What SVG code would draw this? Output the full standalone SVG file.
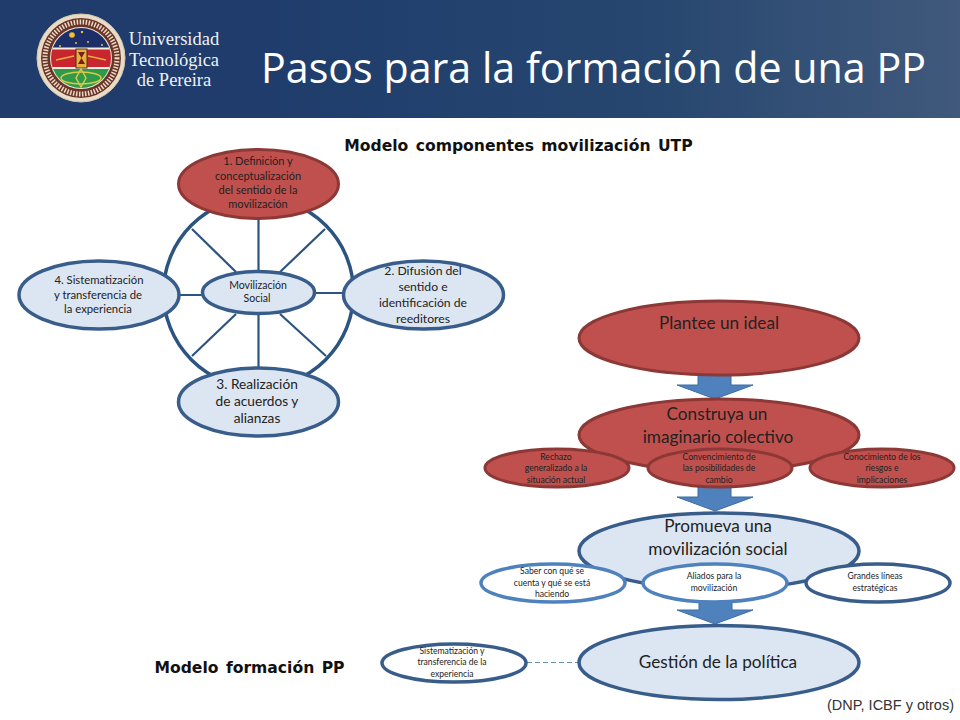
<svg xmlns="http://www.w3.org/2000/svg" width="960" height="720" viewBox="0 0 960 720">
<defs>
<linearGradient id="hdr" x1="0" y1="0" x2="1" y2="0"><stop offset="0" stop-color="#1f3c6c"/><stop offset="0.55" stop-color="#26466f"/><stop offset="1" stop-color="#40597c"/></linearGradient>
<clipPath id="skyClip"><circle cx="80" cy="58" r="30"/></clipPath>
</defs>
<style>
text{font-family:Lato,"Open Sans","Liberation Sans",sans-serif;text-anchor:middle;fill:#222}
.red{fill:#c0504d;stroke:#8c3836;stroke-width:3}
.blue{fill:#dce6f2;stroke:#385d8a;stroke-width:3.5}
.white{fill:#fff;stroke:#385d8a;stroke-width:3.5}
.whitel{fill:#fff;stroke:#4f81bd;stroke-width:3.5}
.spoke{stroke:#2c5480;stroke-width:2.2;fill:none}
.arrow{fill:#4f81bd;stroke:#3a6ca5;stroke-width:1}
.s7{font-size:8.6px}.s16{font-size:17.2px}.h{font-size:15.6px;font-weight:700;fill:#111;word-spacing:2px;font-family:"DejaVu Sans","Open Sans",sans-serif;}
</style>
<g id="header">
<rect x="0" y="0" width="960" height="118" fill="#1f3c6c"/>
<rect x="245" y="0" width="715" height="118" fill="url(#hdr)"/>
<text x="593.500" y="83" style="font-size:41.200px;fill:#fff;font-family:'Open Sans',Lato,sans-serif">Pasos para la formación de una PP</text>
</g>
<g id="logo">
<circle cx="81" cy="58" r="44" fill="#e9dcc6" stroke="#d8c8ae" stroke-width="1"/>
<circle cx="81" cy="58" r="40" fill="#6b3428"/>
<circle cx="81" cy="58" r="36" fill="none" stroke="#e9dcc6" stroke-width="5" stroke-dasharray="1.5 1.5"/>
<circle cx="81" cy="58" r="31" fill="#efe7d4"/>
<g clip-path="url(#skyClip)" transform="translate(1 0)">
<rect x="50" y="28" width="60" height="21" fill="#1d2f68"/>
<rect x="50" y="49" width="60" height="19" fill="#c8252f"/>
<rect x="50" y="68" width="60" height="22" fill="#2e9a4a"/>
<rect x="50" y="47.500" width="60" height="2" fill="#f4eede"/>
<rect x="50" y="67" width="60" height="2" fill="#f4eede"/>
</g>
<circle cx="72" cy="35" r="2.800" fill="#f2c02e"/>
<circle cx="82" cy="32" r="1.200" fill="#f2c02e"/><circle cx="60" cy="46" r="1" fill="#f2c02e"/><circle cx="76" cy="43" r="1" fill="#f2c02e"/><circle cx="88" cy="42" r="1" fill="#f2c02e"/><circle cx="102" cy="45" r="1" fill="#f2c02e"/>
<rect x="76" y="49" width="11" height="19" fill="#e5b13a" stroke="#5a2a20" stroke-width="1"/>
<path d="M78 52h7l-3.500 6 3.500 6h-7l3.500-6z" fill="#7a1d1d"/>
<path d="M56 60l18-4M106 60l-18-4" stroke="#e5b13a" stroke-width="1.500" fill="none"/>
<ellipse cx="81" cy="78" rx="20" ry="6" fill="none" stroke="#d8c94a" stroke-width="1.500"/>
<path d="M81 69l5 9-5 9-5-9z" fill="none" stroke="#d8c94a" stroke-width="1.500"/>
<text x="174" y="45" style="font-size:18.500px;fill:#eef1f5;font-family:'Liberation Serif',serif">Universidad</text>
<text x="174" y="66" style="font-size:18.500px;fill:#eef1f5;font-family:'Liberation Serif',serif">Tecnológica</text>
<text x="174" y="86" style="font-size:18.500px;fill:#eef1f5;font-family:'Liberation Serif',serif">de Pereira</text>
</g>
<text x="518.500" y="151" class="h">Modelo componentes movilización UTP</text>
<text x="249.500" y="673" class="h">Modelo formación PP</text>
<text x="890.500" y="710" style="font-size:14.500px;font-family:'Liberation Sans',sans-serif;fill:#333">(DNP, ICBF y otros)</text>
<g id="connectors">
<circle cx="258.500" cy="292.500" r="95" fill="none" stroke="#2c5480" stroke-width="3.500"/>
<path class="spoke" d="M258.500 219V272M258.500 313V368M179 295H202M315 293H343M192 229L236 272M325 229L280 272M192 356L236 314M326 356L280 314"/>
<path d="M527 662.500H578" stroke="#6f8fae" stroke-width="1" stroke-dasharray="5 3" fill="none"/>
<path class="arrow" d="M698 375H731V385H753L715 399L677 385H698Z"/>
<path class="arrow" d="M698 487H731V497H753L715 511L677 497H698Z"/>
<path class="arrow" d="M699 598H732V610H753L715 624L677 610H699Z"/>
</g>
<g id="n1" style="font-size:11px"><ellipse class="red" cx="258.500" cy="184" rx="80" ry="34.500"/><text x="258" y="165">1. Definición y</text><text x="258" y="180">conceptualización</text><text x="258" y="194">del sentido de la</text><text x="258" y="208">movilización</text></g>
<g id="n2" style="font-size:12.200px"><ellipse class="blue" cx="423.500" cy="295" rx="80" ry="34"/><text x="423" y="275">2. Difusión del</text><text x="423" y="291">sentido e</text><text x="423" y="307">identificación de</text><text x="423" y="323">reeditores</text></g>
<g id="n3" style="font-size:13.700px"><ellipse class="blue" cx="258.500" cy="402" rx="80" ry="34"/><text x="257" y="389">3. Realización</text><text x="257" y="406">de acuerdos y</text><text x="257" y="423">alianzas</text></g>
<g id="n4" style="font-size:11.300px"><ellipse class="blue" cx="99" cy="295" rx="80" ry="34"/><text x="99" y="284">4. Sistematización</text><text x="98" y="299">y transferencia de</text><text x="98" y="313">la experiencia</text></g>
<g id="n0" style="font-size:10.500px"><ellipse class="blue" cx="258.500" cy="292.500" rx="56" ry="21"/><text x="258" y="289">Movilización</text><text x="257" y="302">Social</text></g>
<g id="plantee"><ellipse class="red" cx="719" cy="338" rx="140" ry="37"/><text class="s16" x="719" y="329">Plantee un ideal</text></g>
<g id="construya"><ellipse class="red" cx="719" cy="435" rx="140" ry="36"/><text class="s16" x="717" y="420">Construya un</text><text class="s16" x="718" y="443">imaginario colectivo</text></g>
<g id="rechazo"><ellipse class="red" cx="557" cy="468" rx="72" ry="19"/><text class="s7" x="556" y="460">Rechazo</text><text class="s7" x="556" y="471">generalizado a la</text><text class="s7" x="556" y="483">situación actual</text></g>
<g id="convencimiento"><ellipse class="red" cx="720" cy="468" rx="72" ry="19"/><text class="s7" x="719" y="460">Convencimiento de</text><text class="s7" x="719" y="471">las posibilidades de</text><text class="s7" x="719" y="483">cambio</text></g>
<g id="conocimiento"><ellipse class="red" cx="882" cy="468" rx="72" ry="19"/><text class="s7" x="882" y="460">Conocimiento de los</text><text class="s7" x="882" y="471">riesgos e</text><text class="s7" x="882" y="483">implicaciones</text></g>
<g id="promueva"><ellipse class="blue" cx="719" cy="551" rx="140" ry="38"/><text class="s16" x="718" y="532">Promueva una</text><text class="s16" x="718" y="555">movilización social</text></g>
<g id="saber"><ellipse class="whitel" cx="553" cy="583" rx="72" ry="19"/><text class="s7" x="552" y="574">Saber con qué se</text><text class="s7" x="552" y="586">cuenta y qué se está</text><text class="s7" x="552" y="597">haciendo</text></g>
<g id="aliados"><ellipse class="whitel" cx="715" cy="583" rx="72" ry="19"/><text class="s7" x="714" y="579">Aliados para la</text><text class="s7" x="714" y="591">movilización</text></g>
<g id="grandes"><ellipse class="white" cx="878" cy="583" rx="72" ry="19"/><text class="s7" x="875" y="579">Grandes líneas</text><text class="s7" x="875" y="591">estratégicas</text></g>
<g id="gestion"><ellipse class="blue" cx="719" cy="662.500" rx="140" ry="37"/><text class="s16" x="718" y="668">Gestión de la política</text></g>
<g id="sistematizacion"><ellipse class="white" cx="454" cy="663" rx="72" ry="19"/><text class="s7" x="452" y="654">Sistematización y</text><text class="s7" x="452" y="665">transferencia de la</text><text class="s7" x="452" y="677">experiencia</text></g>
</svg>
